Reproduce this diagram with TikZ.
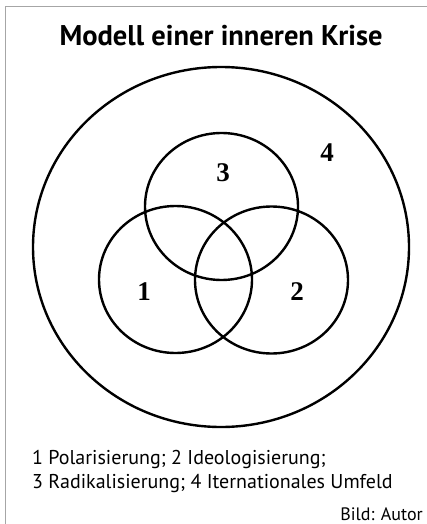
\documentclass[tikz,border=0pt]{standalone}
\usepackage{fontspec}
\setmainfont{Liberation Serif}
\newfontfamily\capfont{PT Sans}
\usetikzlibrary{positioning,shapes.geometric}

\begin{document}
\begin{tikzpicture}[
  x=1pt, y=-1pt,
  ring/.style={draw,ellipse,line width=2.4pt,minimum width=153pt,minimum height=147pt,inner sep=0pt},
  num/.style={font=\fontsize{27}{27}\selectfont\bfseries,inner sep=0pt},
  capline/.style={font=\capfont\fontsize{20}{24}\selectfont,inner sep=0pt,anchor=base west}
]
\useasboundingbox (0,0) rectangle (427,524);
% frame (only top and left edge visible)
\draw[gray!70,line width=0.6pt] (5,524) -- (5,6) -- (427,6);

\node[font=\capfont\bfseries\fontsize{28.5}{32}\selectfont,anchor=base,inner sep=0pt] (title) at (221,46) {Modell einer inneren Krise};

% circles
\node[draw,ellipse,line width=2.4pt,minimum width=376pt,minimum height=360pt,inner sep=0pt] (umfeld) at (221,247) {};
\node[ring] (radik) at (221.5,206.5) {};
\node[ring] (polar) at (175.5,279.5) {};
\node[ring] (ideol) at (271.5,280) {};

% numbers
\node[num] (n3) at (223,173) {3};
\node[num] (n4) at (327,153) {4};
\node[num] (n1) at (144,292) {1};
\node[num] (n2) at (297,292) {2};

% legend
\node[capline] (leg1) at (32,464) {1 Polarisierung; 2 Ideologisierung;};
\node[capline] (leg2) at (32,488) {3 Radikalisierung; 4 Iternationales Umfeld};
\node[font=\capfont\fontsize{18}{20}\selectfont,inner sep=0pt,anchor=base east] (bild) at (423,520) {Bild: Autor};
\end{tikzpicture}
\end{document}
